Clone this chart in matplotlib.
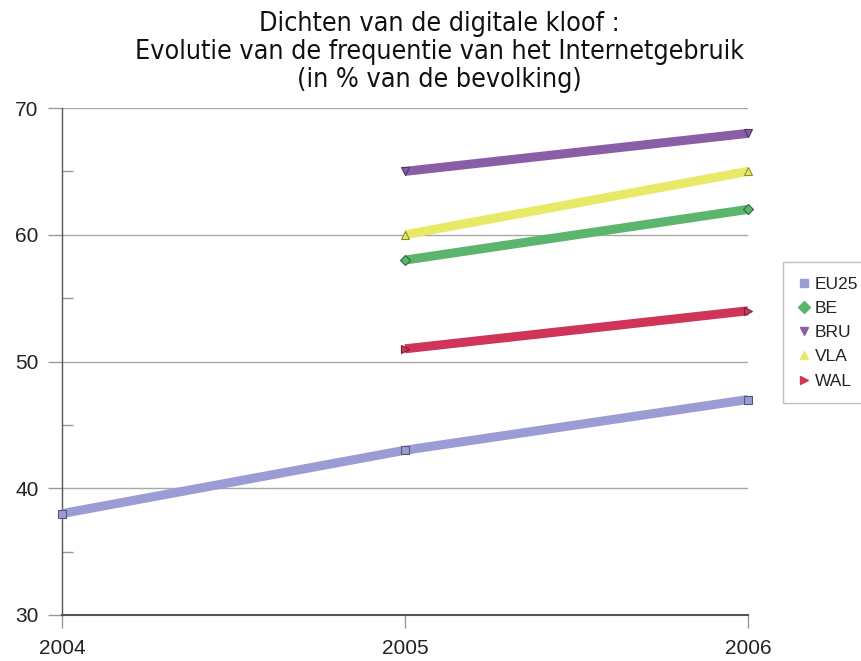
import matplotlib
matplotlib.use("Agg")
import matplotlib.pyplot as plt
from matplotlib.lines import Line2D
from matplotlib.ticker import MultipleLocator

years = [2004, 2005, 2006]
series_names = ["EU25", "BE", "BRU", "VLA", "WAL"]
eu25 = [38, 43, 47]
be = [None, 58, 62]
bru = [None, 65, 68]
vla = [None, 60, 65]
wal = [None, 51, 54]

colors = ["#9c9cd4", "#5bb56c", "#8a5ea6", "#e6ea66", "#cf3459"]
edges = ["#55557a", "#2f6b3c", "#4d3460", "#8a8a30", "#7a1f35"]
markers = ["s", "D", "v", "^", ">"]
msizes = [6, 5, 6, 6, 6]

plt.rcParams["font.family"] = ["Liberation Sans", "DejaVu Sans"]

fig = plt.figure(figsize=(8.62, 6.61), dpi=100)
ax = fig.add_axes([62 / 862, 1 - 615 / 661, (748 - 62) / 862, (615 - 108) / 661])

for vals, c, e, m, ms in zip([eu25, be, bru, vla, wal], colors, edges, markers, msizes):
    xs = [x for x, v in zip(years, vals) if v is not None]
    ys = [v for v in vals if v is not None]
    ax.plot(xs, ys, color=c, lw=6.5, solid_capstyle="butt", marker=m, ms=ms,
            mfc=c, mec=e, mew=0.8, clip_on=False, zorder=3)

ax.set_xlim(2004, 2006)
ax.set_ylim(30, 70)
ax.set_xticks(years)
ax.set_xticklabels([str(y) for y in years])
ax.yaxis.set_major_locator(MultipleLocator(10))
ax.yaxis.set_minor_locator(MultipleLocator(5))

ax.grid(axis="y", which="major", color="#a8a8a8", lw=1.0)
ax.set_axisbelow(True)
for s in ["top", "right"]:
    ax.spines[s].set_visible(False)
ax.spines["left"].set_color("#555555")
ax.spines["left"].set_linewidth(1.0)
ax.spines["bottom"].set_color("#555555")
ax.spines["bottom"].set_linewidth(1.5)

ax.tick_params(axis="y", which="major", direction="out", length=10, width=1,
               color="#999999", labelsize=15, labelcolor="#222222", pad=7)
ax.tick_params(axis="y", which="minor", direction="in", length=8, width=1,
               color="#999999")
ax.tick_params(axis="x", which="major", direction="out", length=9, width=1,
               color="#999999", labelsize=15, labelcolor="#222222", pad=8)

fig.text(0.51, 0.984,
         "Dichten van de digitale kloof :\n"
         "Evolutie van de frequentie van het Internetgebruik\n"
         "(in % van de bevolking)",
         ha="center", va="top", fontsize=19.3, linespacing=1.1,
         family=["Liberation Sans Narrow", "DejaVu Sans"], stretch="condensed",
         color="#111111")

handles = [Line2D([], [], ls="none", marker=m, ms=6, mfc=c, mec=c)
           for c, m in zip(colors, markers)]
leg = fig.legend(handles, series_names, loc="upper left",
                 bbox_to_anchor=(783 / 862, 1 - 262 / 661), fontsize=12.5,
                 frameon=True, fancybox=False, handlelength=0.7,
                 handletextpad=0.3, labelspacing=0.52, borderpad=0.85,
                 borderaxespad=0)
leg.get_frame().set_edgecolor("#b0b0b0")
leg.get_frame().set_linewidth(1.0)
for t in leg.get_texts():
    t.set_color("#222222")

fig.savefig("out.png", dpi=100)
